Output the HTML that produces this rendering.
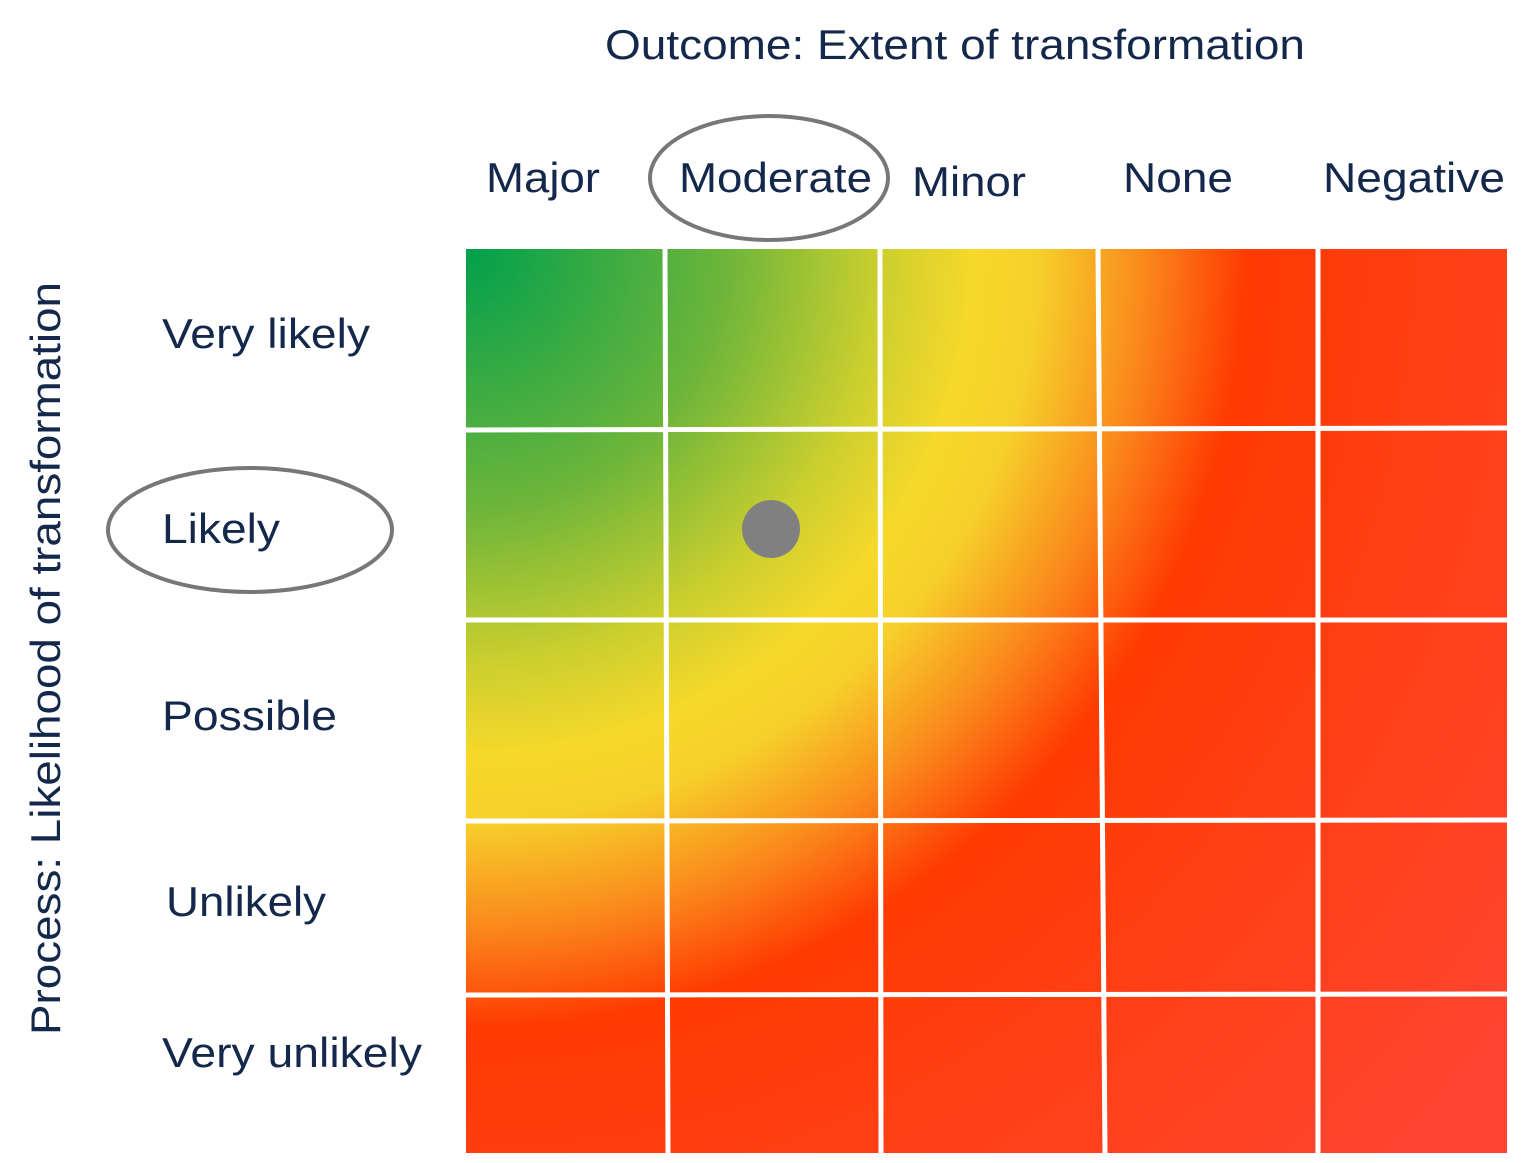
<!DOCTYPE html>
<html><head><style>body{margin:0;background:#fff}</style></head><body>
<svg width="1538" height="1158" xmlns="http://www.w3.org/2000/svg" font-family="Liberation Sans, sans-serif" fill="#14284b">
<defs>
<radialGradient id="g" gradientUnits="userSpaceOnUse" cx="466" cy="249" r="1300">
<stop offset="0" stop-color="#00a04c"/>
<stop offset="0.2" stop-color="#6db53a"/>
<stop offset="0.32" stop-color="#cccf2e"/>
<stop offset="0.39" stop-color="#f6d82a"/>
<stop offset="0.44" stop-color="#f6d02a"/>
<stop offset="0.52" stop-color="#fa8a1c"/>
<stop offset="0.6" stop-color="#ff3a02"/>
<stop offset="1" stop-color="#ff4530"/>
</radialGradient>
</defs>
<rect x="466" y="249" width="1041" height="904" fill="url(#g)"/>
<g stroke="#fff" stroke-width="5">
<line x1="665" y1="249" x2="668" y2="1153"/>
<line x1="880" y1="249" x2="881" y2="1153"/>
<line x1="1098" y1="249" x2="1105" y2="1153"/>
<line x1="1318" y1="249" x2="1318" y2="1153"/>
<line x1="466" y1="430" x2="1507" y2="428"/>
<line x1="466" y1="620" x2="1507" y2="620"/>
<line x1="466" y1="821" x2="1507" y2="820"/>
<line x1="466" y1="995" x2="1507" y2="994"/>
</g>
<g font-size="42" lengthAdjust="spacingAndGlyphs">
<text x="605" y="59" textLength="700" lengthAdjust="spacingAndGlyphs">Outcome: Extent of transformation</text>
<text x="486" y="192" textLength="114" lengthAdjust="spacingAndGlyphs">Major</text>
<text x="679" y="192" textLength="193" lengthAdjust="spacingAndGlyphs">Moderate</text>
<text x="912" y="196" textLength="114" lengthAdjust="spacingAndGlyphs">Minor</text>
<text x="1123" y="192" textLength="110" lengthAdjust="spacingAndGlyphs">None</text>
<text x="1323" y="192" textLength="182" lengthAdjust="spacingAndGlyphs">Negative</text>
<text x="162" y="348" textLength="208" lengthAdjust="spacingAndGlyphs">Very likely</text>
<text x="162" y="543" textLength="118" lengthAdjust="spacingAndGlyphs">Likely</text>
<text x="162" y="730" textLength="175" lengthAdjust="spacingAndGlyphs">Possible</text>
<text x="166" y="916" textLength="160" lengthAdjust="spacingAndGlyphs">Unlikely</text>
<text x="162" y="1067" textLength="260" lengthAdjust="spacingAndGlyphs">Very unlikely</text>
<text transform="translate(60,1035) rotate(-90)" textLength="753" lengthAdjust="spacingAndGlyphs">Process: Likelihood of transformation</text>
</g>
<ellipse cx="769" cy="178" rx="119" ry="62" fill="none" stroke="#777" stroke-width="4"/>
<ellipse cx="250" cy="530" rx="142" ry="62" fill="none" stroke="#777" stroke-width="4"/>
<circle cx="771" cy="529" r="29" fill="#808080"/>
</svg>
</body></html>
